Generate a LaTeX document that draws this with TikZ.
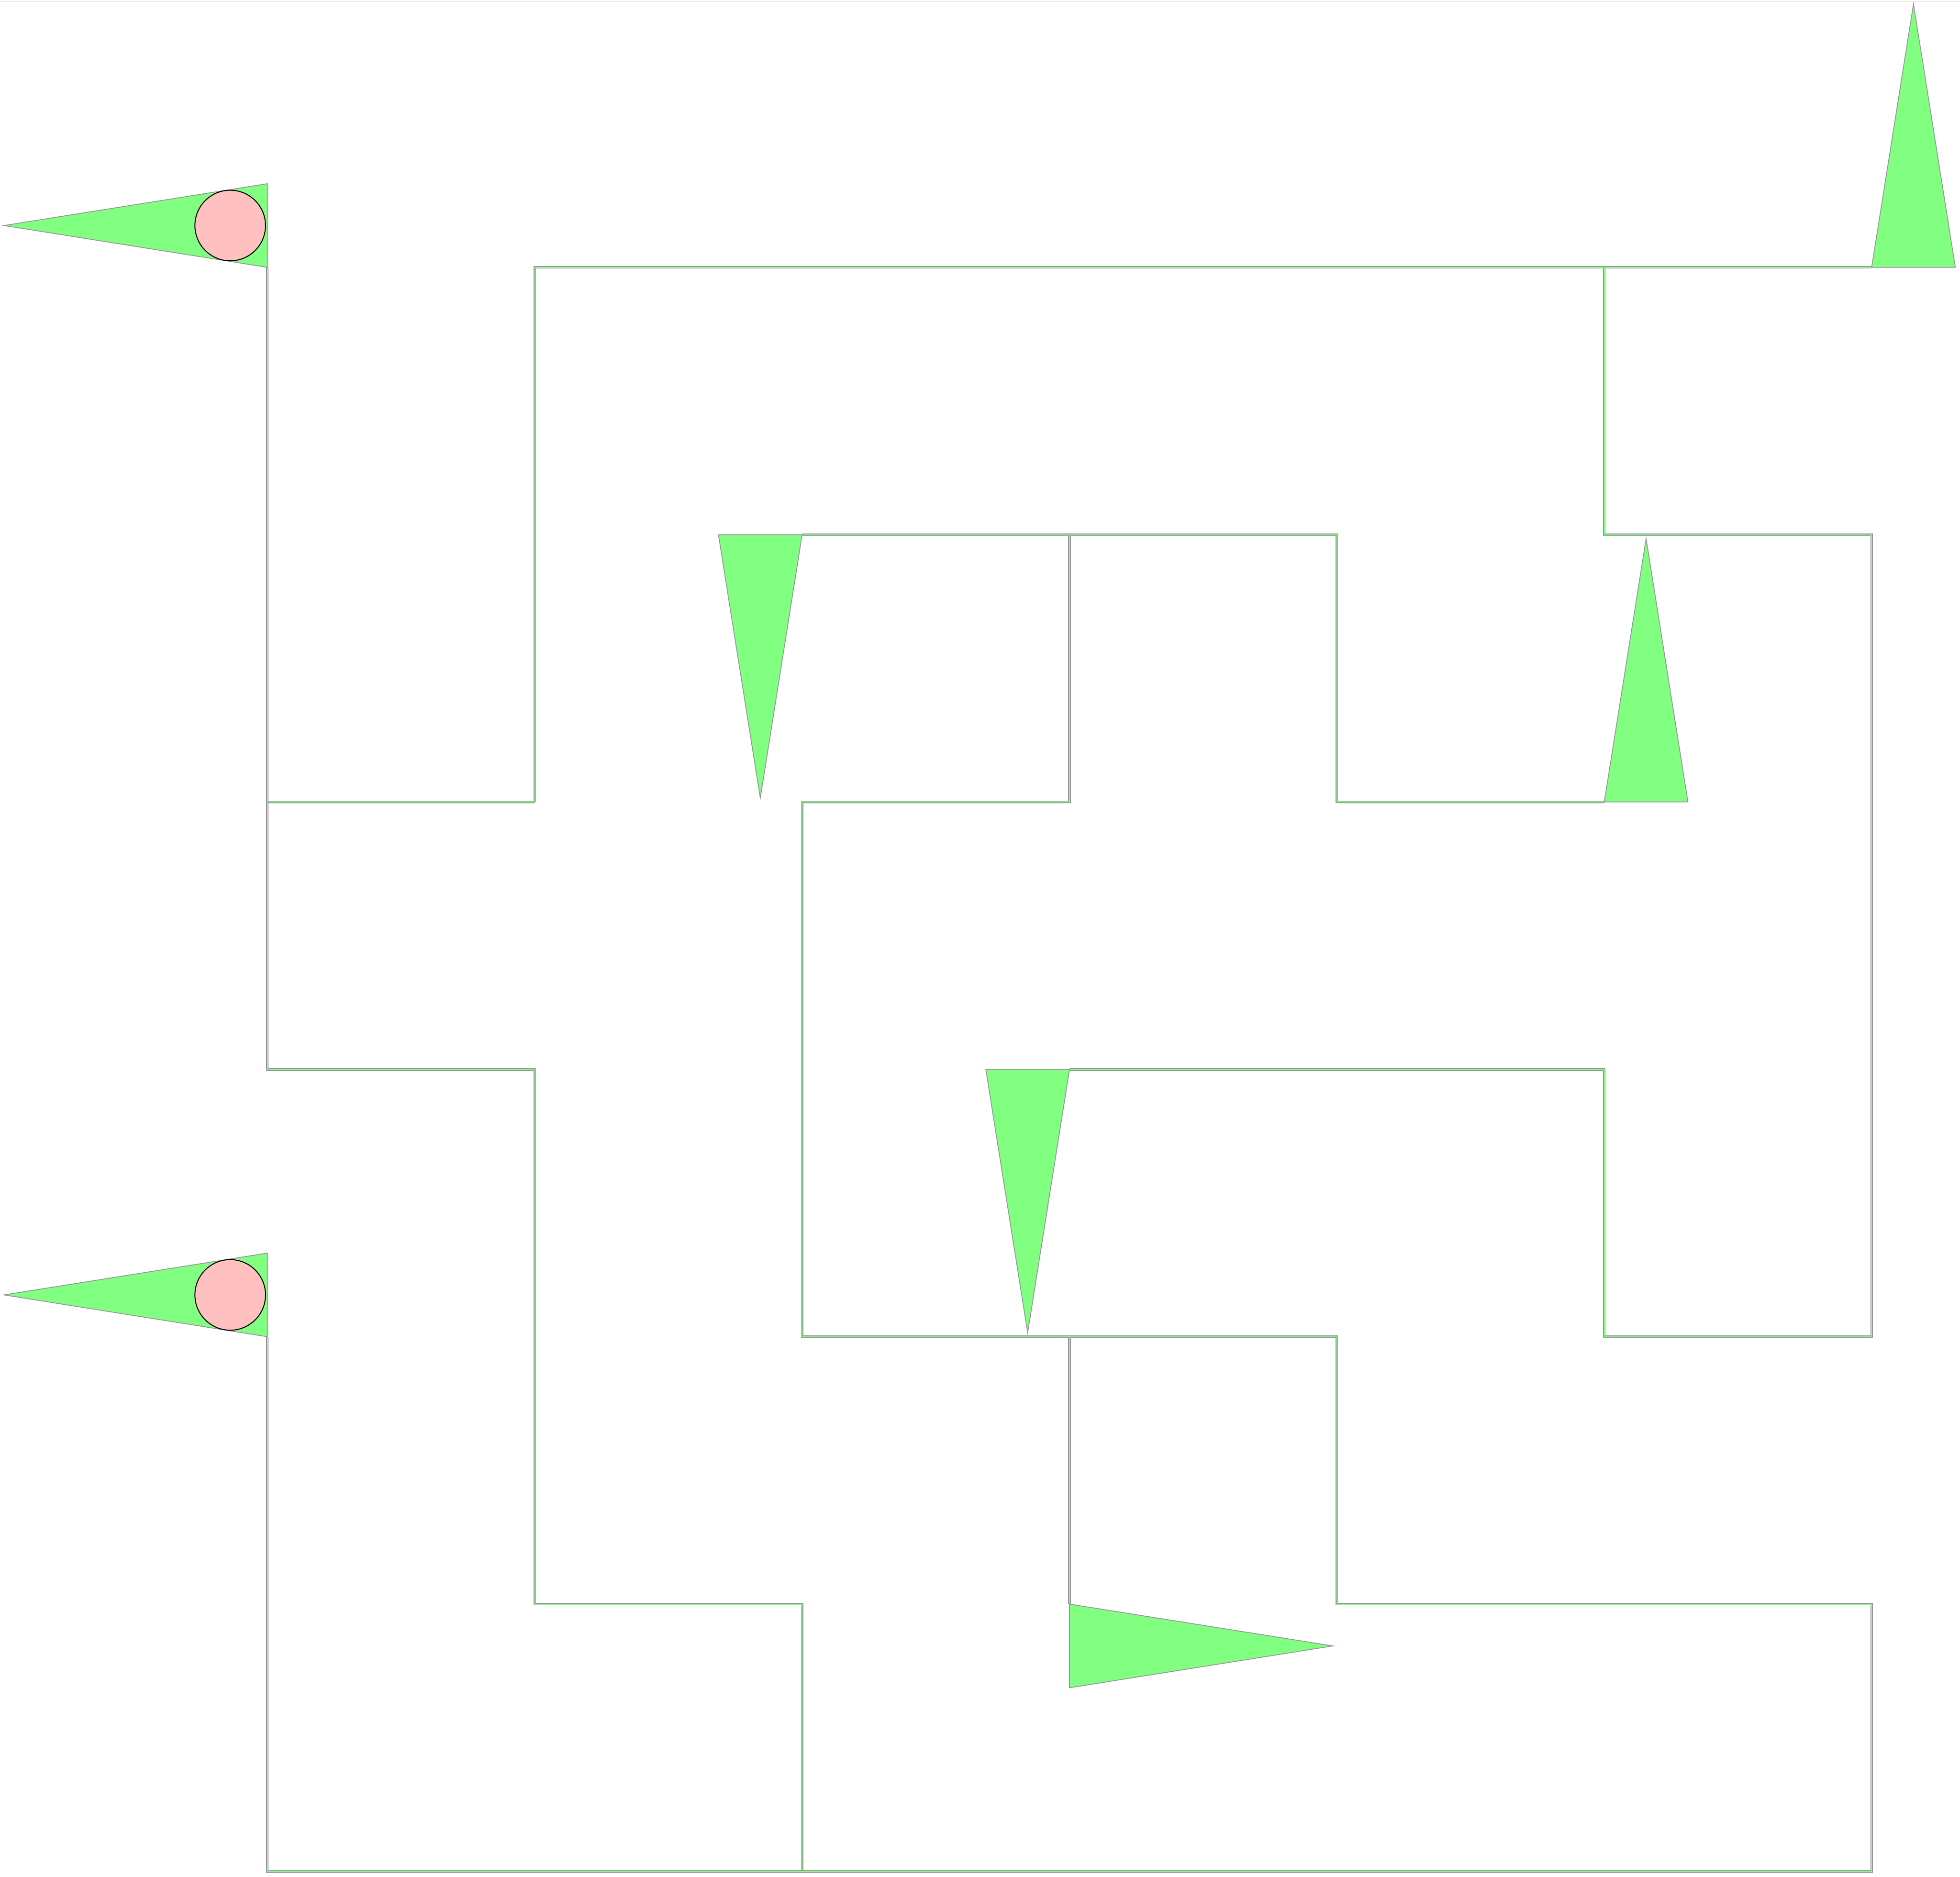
\documentclass[tikz,border=0pt]{standalone}
\definecolor{wallgray}{HTML}{959595}
\definecolor{wallgreen}{HTML}{80FF80}
\definecolor{pinkfill}{HTML}{FFC0C0}
\tikzset{
  wall/.style={draw=wallgray, line width=0.17pt, double=wallgreen, double distance=0.2pt, line join=miter},
  flag/.style={draw=wallgray, fill=wallgreen, line width=0.17pt, line join=miter},
  ball/.style={draw=black, fill=pinkfill, line width=0.2pt},
  topedge/.style={draw=black!20, line width=0.1pt}
}
\begin{document}
\begin{tikzpicture}[x=2cm, y=-2cm]
\useasboundingbox (0,0) rectangle (7.3306,7.0197);
\draw[topedge] (0,0.004) -- (7.3306,0.004);
% walls
\draw[wall] (2,3) -- (2,1) -- (7,1);
\draw[wall] (6,1) -- (6,2) -- (7,2) -- (7,5) -- (6,5) -- (6,4) -- (4,4);
\draw[wall] (1,1) -- (1,4) -- (2,4) -- (2,6) -- (3,6) -- (3,7);
\draw[wall] (1,3) -- (2,3);
\draw[wall] (1,5) -- (1,7) -- (7,7) -- (7,6) -- (5,6) -- (5,5) -- (3,5) -- (3,3) -- (4,3) -- (4,2) -- (3,2);
\draw[wall] (4,2) -- (5,2) -- (5,3) -- (6,3);
\draw[wall] (4,5) -- (4,6);
% flags
\draw[flag] (1,0.687) -- (1,1) -- (0.015,0.8435) -- cycle;
\draw[flag] (1,4.687) -- (1,5) -- (0.015,4.8435) -- cycle;
\draw[flag] (7,1) -- (7.313,1) -- (7.1565,0.015) -- cycle;
\draw[flag] (2.687,2) -- (3,2) -- (2.8435,2.985) -- cycle;
\draw[flag] (6,3) -- (6.313,3) -- (6.1565,2.015) -- cycle;
\draw[flag] (3.687,4) -- (4,4) -- (3.8435,4.985) -- cycle;
\draw[flag] (4,6) -- (4,6.313) -- (4.985,6.1565) -- cycle;
% balls
\draw[ball] (0.861,0.8435) circle[radius=0.264cm];
\draw[ball] (0.861,4.8435) circle[radius=0.264cm];
\end{tikzpicture}
\end{document}
